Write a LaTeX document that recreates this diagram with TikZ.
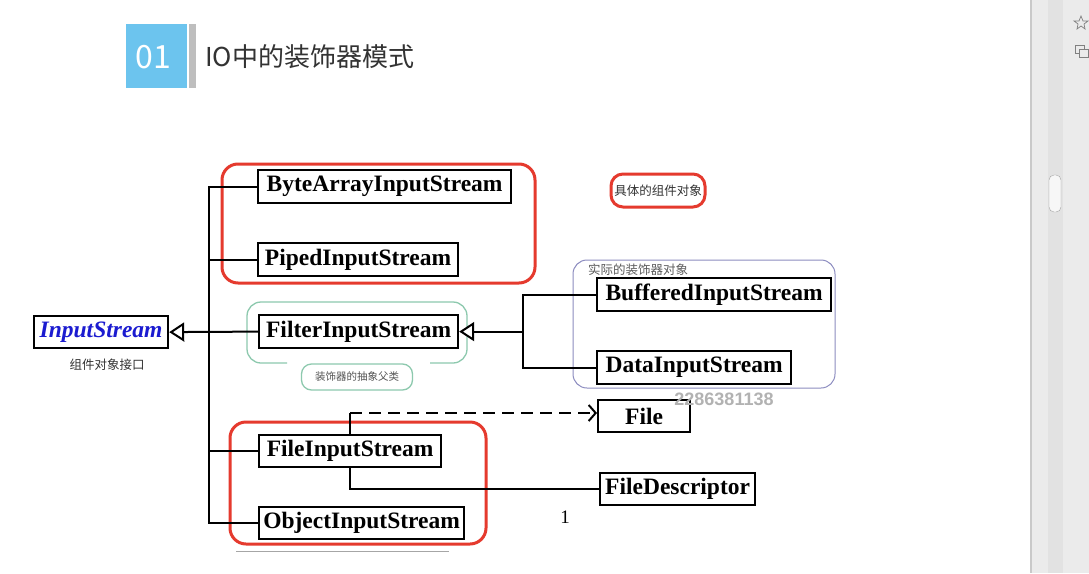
\documentclass[tikz,border=0pt]{standalone}
\usepackage{fontspec}
\setmainfont{Liberation Serif}
\newfontfamily\cjk{Noto Sans CJK SC}
\newfontfamily\arial{Liberation Sans}
\usetikzlibrary{arrows.meta}
\definecolor{redbox}{HTML}{E53A2E}
\definecolor{greenbox}{HTML}{8DC9AE}
\definecolor{purplebox}{HTML}{8C8CC0}
\definecolor{isblue}{HTML}{1B1BD0}
\definecolor{titleblue}{HTML}{6CC4EE}
\definecolor{barGray}{HTML}{BEBEBE}
\definecolor{titletext}{HTML}{333333}
\definecolor{panel}{HTML}{EBEBEB}
\definecolor{panelline}{HTML}{C9C9C9}
\definecolor{track}{HTML}{E2E2E2}
\begin{document}
\begin{tikzpicture}[x=1pt,y=-1pt,
  cls/.style={draw,line width=2.2pt,inner sep=0pt,minimum height=33pt,anchor=north west,
    font=\fontsize{23.5}{26}\selectfont\bfseries},
  conn/.style={line width=2pt},
  redframe/.style={draw=redbox,line width=3pt,rounded corners=16pt},
  cjklabel/.style={font=\cjk\fontsize{12.5}{14}\selectfont,text=titletext,inner sep=0pt},
  tri/.style={-{Triangle[open,length=15pt,width=19pt,fill=white]}}
]
\useasboundingbox (0,0) rectangle (1089,573);
\fill[white] (0,0) rectangle (1089,573);
% browser side panel
\fill[panel] (1031,0) rectangle (1089,573);
\draw[panelline,line width=2pt] (1031,0) -- (1031,573);
\fill[track] (1048,0) rectangle (1063,573);
\draw[gray!70,fill=white!97!black,rounded corners=5pt] (1049,175) rectangle (1061,212);
\draw[gray,line width=0.7pt] (1081,16) -- (1083,21) -- (1088,21) -- (1084,24) -- (1085,29) -- (1081,26) -- (1077,29) -- (1078,24) -- (1074,21) -- (1079,21) -- cycle;
\draw[gray,line width=0.8pt] (1075,45) rectangle (1084,53);
\draw[gray,line width=0.8pt,fill=panel] (1079,49) rectangle (1088,57);
% title
\fill[titleblue] (126,24) rectangle (187,88);
\node[text=white,font=\cjk\fontsize{32}{34}\selectfont] (num) at (153,57) {01};
\fill[barGray] (189,24) rectangle (196,88);
\node[anchor=west,font=\cjk\fontsize{26}{30}\selectfont,text=titletext,inner sep=0pt] (title) at (205,57) {IO中的装饰器模式};
% frames
\draw[redframe] (222,164) rectangle (535,283);
\draw[redframe,rounded corners=12pt] (611,174) rectangle (705,207);
\draw[redframe] (230,422) rectangle (486,544);
\draw[purplebox,line width=1pt,rounded corners=14pt] (573,260) rectangle (835,388);
\draw[greenbox,line width=1.3pt,rounded corners=14pt] (287,363) -- (247,363) -- (247,302) -- (467,302) -- (467,363) -- (430,363);
% class boxes
\node[cls,minimum width=134pt,minimum height=32pt,text=isblue,font=\fontsize{23.5}{26}\selectfont\bfseries\itshape] (is) at (33,315) {InputStream};
\node[cls,minimum width=253pt] (ba) at (257,169) {ByteArrayInputStream};
\node[cls,minimum width=200pt] (pi) at (257,242) {PipedInputStream};
\node[cls,minimum width=199pt] (fi) at (258,314) {FilterInputStream};
\node[cls,minimum width=234pt] (bu) at (596,277) {BufferedInputStream};
\node[cls,minimum width=194pt] (da) at (596,350) {DataInputStream};
\node[cls,minimum width=92pt,minimum height=32pt] (file) at (597,399) {File};
\node[cls,minimum width=182pt,minimum height=32pt] (fis) at (258,434) {FileInputStream};
\node[cls,minimum width=155pt,minimum height=32pt] (fd) at (599,472) {FileDescriptor};
\node[cls,minimum width=205pt,minimum height=32pt] (oi) at (258,506) {ObjectInputStream};
% connectors
\coordinate (trunk) at (209,186);
\draw[conn] (ba.west) -- (ba.west -| trunk) -- (oi.west -| trunk) -- (oi.west);
\draw[conn] (pi.west -| trunk) -- (pi.west);
\draw[conn] (fis.west -| trunk) -- (fis.west);
\draw[conn,tri] (fi.west) -- (is.east);
\coordinate (dj) at (523,331);
\draw[conn] (bu.west) -| (fi.east -| dj) |- (da.west);
\draw[conn,tri] (fi.east -| dj) -- (fi.east);
\coordinate (fx) at (350,413);
\draw[conn] (fis.north -| fx) -- (fx);
\draw[conn,dash pattern=on 12pt off 7pt,-{Straight Barb[length=7pt,width=16pt]}] (fx) -- (fx -| file.west);
\draw[conn] (fis.south -| fx) |- (fd.west);
% labels
\node[cjklabel] (l1) at (107,365) {组件对象接口};
\node[cjklabel] (l2) at (658,191) {具体的组件对象};
\node[cjklabel,anchor=west,text=titletext!80] (l3) at (588,270) {实际的装饰器对象};
\node[draw=greenbox,line width=1.3pt,rounded corners=10pt,minimum width=111pt,minimum height=26pt,
  font=\cjk\fontsize{10.5}{12}\selectfont,text=titletext!85,inner sep=0pt] (l4) at (357,377) {装饰器的抽象父类};
\node[font=\fontsize{19}{20}\selectfont,inner sep=0pt] (one) at (565,517) {1};
\node[text=black!30,font=\arial\bfseries\fontsize{18}{20}\selectfont,inner sep=0pt] (wm) at (724,399) {2286381138};
\draw[gray!70,line width=1pt] (236,551) -- (449,551);
\end{tikzpicture}
\end{document}
